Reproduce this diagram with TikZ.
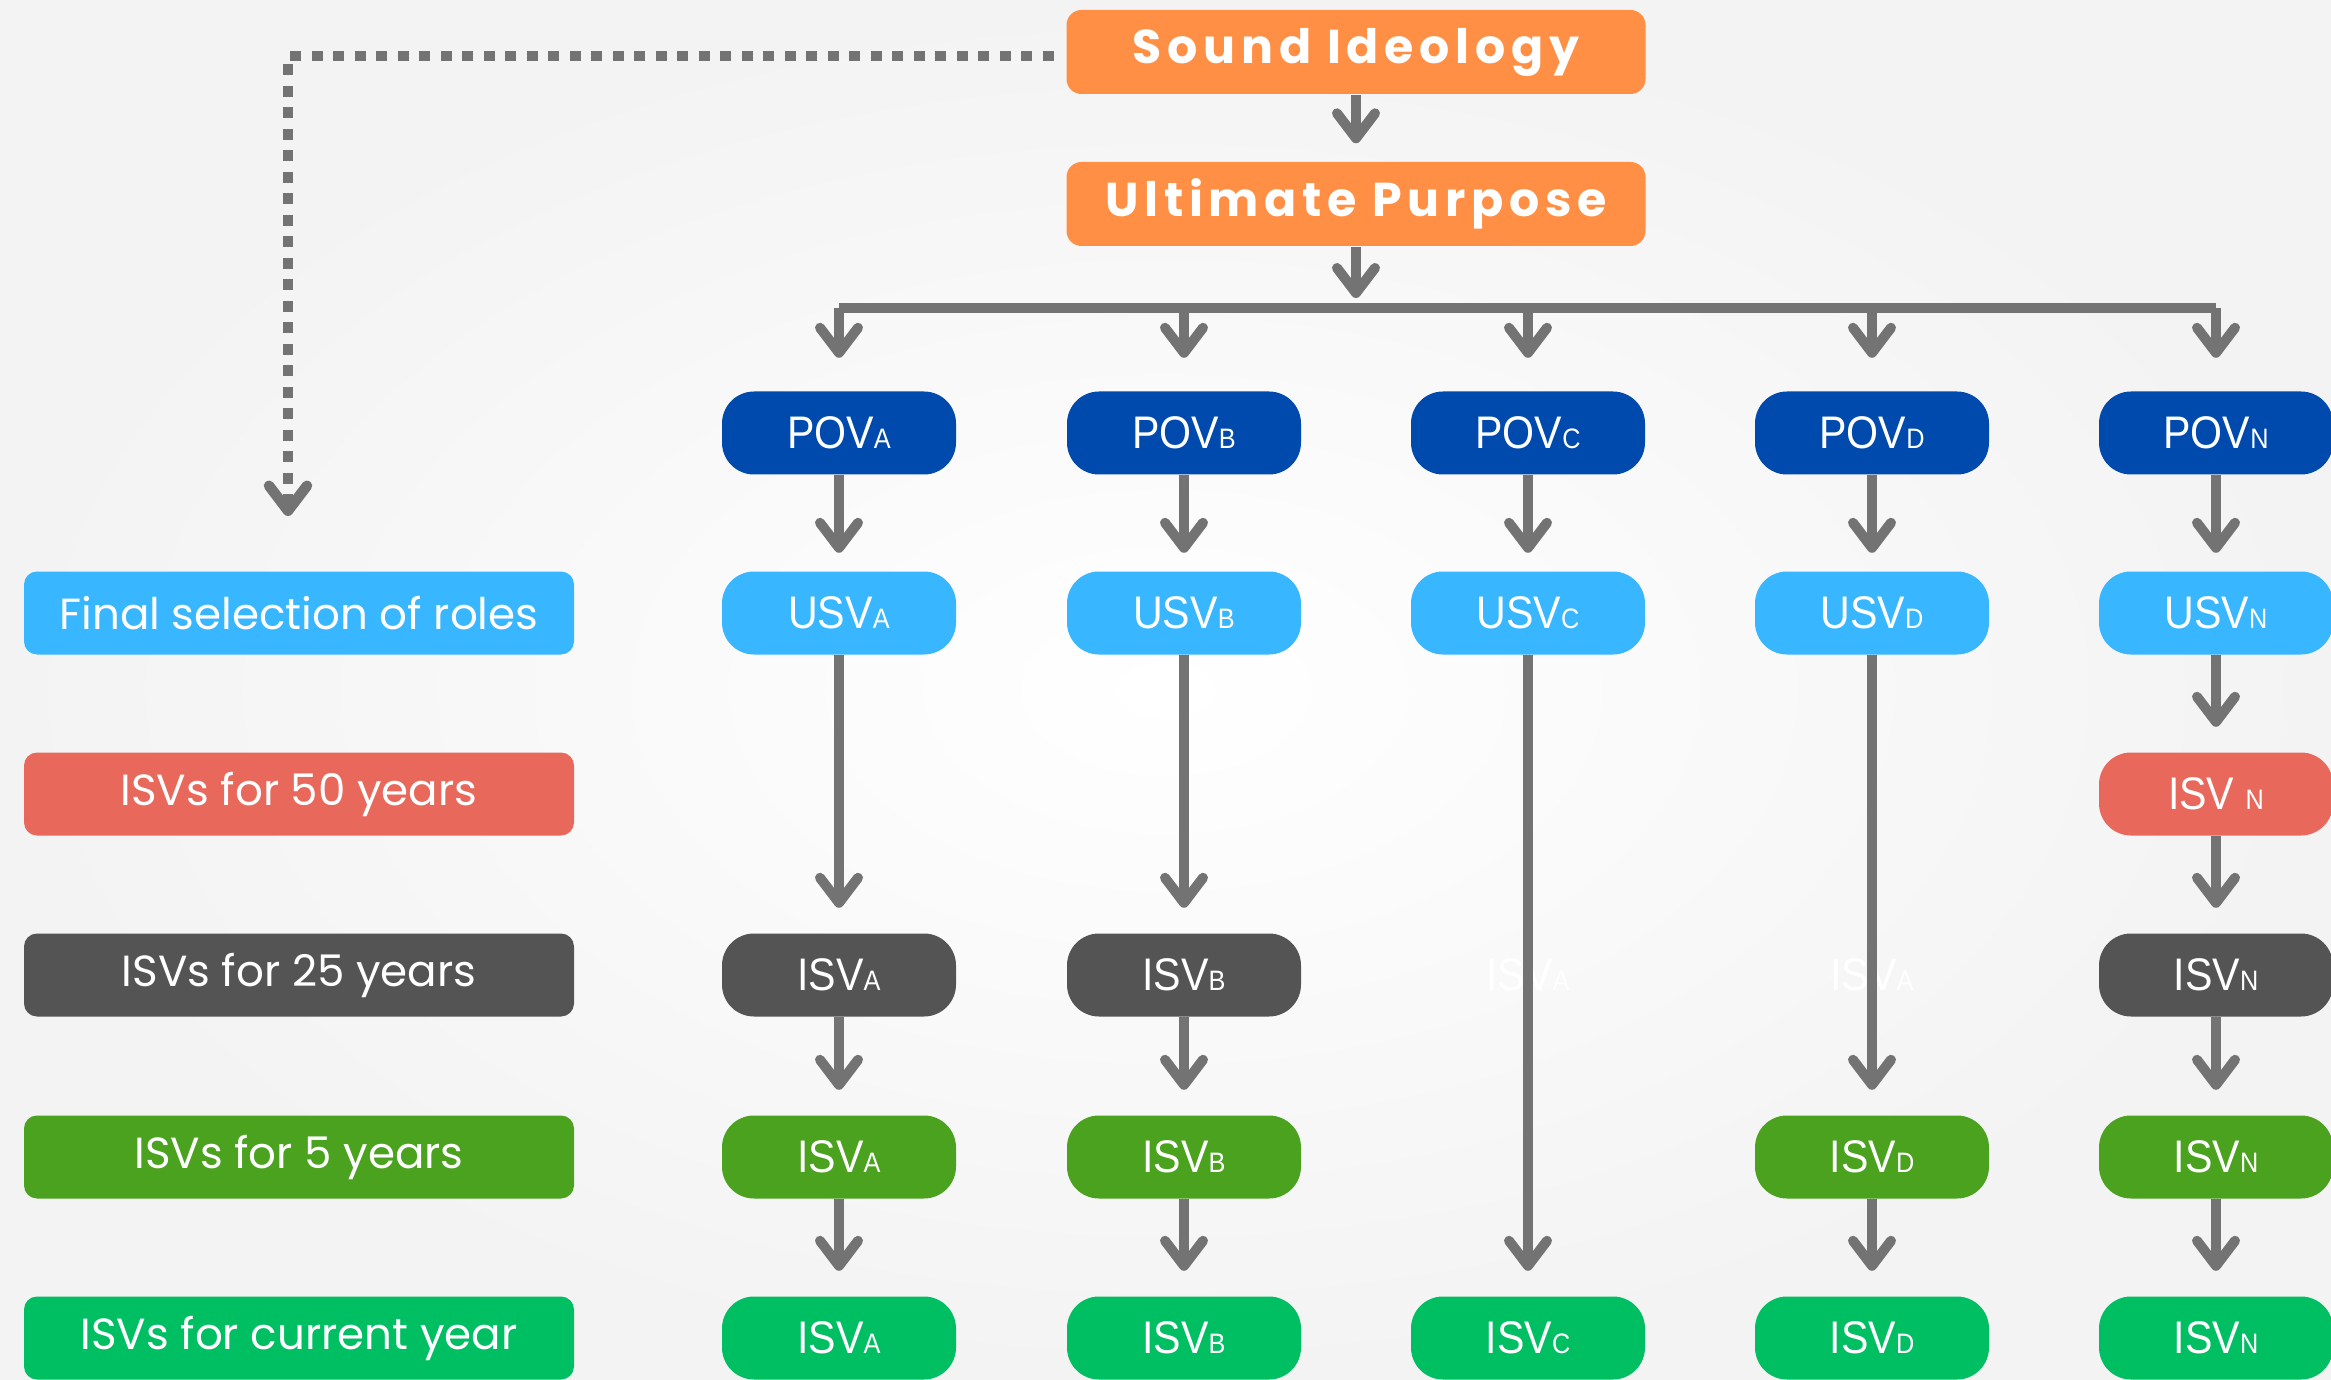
\documentclass[tikz,border=0pt]{standalone}
\usepackage{fontspec}
\setmainfont{Poppins}
\newfontfamily\colfont{Liberation Sans}[FakeStretch=0.9]
\newfontfamily\headfont{Poppins}[LetterSpace=12]
\usepackage{xcolor}
\usepackage{tikz}
\usetikzlibrary{positioning,arrows.meta}
\definecolor{headorange}{HTML}{FF8F45}
\definecolor{povblue}{HTML}{004AAD}
\definecolor{usvblue}{HTML}{38B6FF}
\definecolor{fiftyred}{HTML}{E8695B}
\definecolor{twfivegray}{HTML}{545454}
\definecolor{fivegreen}{HTML}{4AA21E}
\definecolor{nowgreen}{HTML}{00BF63}
\definecolor{linkgray}{HTML}{737373}
\definecolor{bggray}{HTML}{F3F3F3}
\newcommand{\subl}[1]{{\fontsize{8pt}{8pt}\selectfont #1}}

\begin{document}
\begin{tikzpicture}[
  every node/.style={text=white, inner sep=0pt},
  head/.style={fill=headorange, rounded corners=1.5mm, minimum width=5.79cm,
               minimum height=0.84cm, font=\headfont\bfseries\fontsize{13.5pt}{16pt}\selectfont},
  lbl/.style={rounded corners=1.3mm, minimum width=5.5cm, minimum height=0.83cm,
              font=\fontsize{12.4pt}{15pt}\selectfont},
  pill/.style={rounded corners=3.2mm, minimum width=2.34cm, minimum height=0.83cm,
               font=\colfont\fontsize{13pt}{15pt}\selectfont},
  arr/.style={draw=linkgray, line width=1mm, shorten >=2.5mm,
              -{Straight Barb[round, length=2.5mm, width=3.8mm]}},
  dotline/.style={draw=linkgray, line width=1.05mm, dash pattern=on 1.1mm off 1.05mm,
                  -{Straight Barb[round, length=2.5mm, width=3.8mm]}},
]
  \useasboundingbox (0,0) rectangle (23.31,-13.80);
  \shade[inner color=white, outer color=bggray] (0,0) rectangle (23.31,-13.80);

  % Top of the tree
  \node[head] (si) at (13.56,-0.52) {Sound Ideology};
  \node[head] (up) at (13.56,-2.04) {Ultimate Purpose};

  % Row labels on the left
  \node[lbl, fill=usvblue]    (rowusv) at (2.99,-6.13)  {Final selection of roles};
  \node[lbl, fill=fiftyred]   (row50)  at (2.99,-7.94)  {ISVs for 50 years};
  \node[lbl, fill=twfivegray] (row25)  at (2.99,-9.75)  {ISVs for 25 years};
  \node[lbl, fill=fivegreen]  (row5)   at (2.99,-11.57) {ISVs for 5 years};
  \node[lbl, fill=nowgreen]   (rownow) at (2.99,-13.38) {ISVs for current year};

  % POV row
  \node[pill, fill=povblue] (povA) at (8.39,-4.33)  {POV\subl{A}};
  \node[pill, fill=povblue] (povB) at (11.84,-4.33) {POV\subl{B}};
  \node[pill, fill=povblue] (povC) at (15.28,-4.33) {POV\subl{C}};
  \node[pill, fill=povblue] (povD) at (18.72,-4.33) {POV\subl{D}};
  \node[pill, fill=povblue] (povN) at (22.16,-4.33) {POV\subl{N}};

  % USV row
  \node[pill, fill=usvblue] (usvA) at (8.39,-6.13)  {USV\subl{A}};
  \node[pill, fill=usvblue] (usvB) at (11.84,-6.13) {USV\subl{B}};
  \node[pill, fill=usvblue] (usvC) at (15.28,-6.13) {USV\subl{C}};
  \node[pill, fill=usvblue] (usvD) at (18.72,-6.13) {USV\subl{D}};
  \node[pill, fill=usvblue] (usvN) at (22.16,-6.13) {USV\subl{N}};

  % 50 years
  \node[pill, fill=fiftyred] (isvN50) at (22.16,-7.94) {ISV \subl{N}};

  % 25 years (C and D only as faint text)
  \node[pill, fill=twfivegray] (isvA25) at (8.39,-9.75)  {ISV\subl{A}};
  \node[pill, fill=twfivegray] (isvB25) at (11.84,-9.75) {ISV\subl{B}};
  \node[pill, text=white] (ghostC) at (15.28,-9.75) {ISV\subl{A}};
  \node[pill, text=white] (ghostD) at (18.72,-9.75) {ISV\subl{A}};
  \node[pill, fill=twfivegray] (isvN25) at (22.16,-9.75) {ISV\subl{N}};

  % 5 years
  \node[pill, fill=fivegreen] (isvA5) at (8.39,-11.57)  {ISV\subl{A}};
  \node[pill, fill=fivegreen] (isvB5) at (11.84,-11.57) {ISV\subl{B}};
  \node[pill, fill=fivegreen] (isvD5) at (18.72,-11.57) {ISV\subl{D}};
  \node[pill, fill=fivegreen] (isvN5) at (22.16,-11.57) {ISV\subl{N}};

  % current year
  \node[pill, fill=nowgreen] (isvAnow) at (8.39,-13.38)  {ISV\subl{A}};
  \node[pill, fill=nowgreen] (isvBnow) at (11.84,-13.38) {ISV\subl{B}};
  \node[pill, fill=nowgreen] (isvCnow) at (15.28,-13.38) {ISV\subl{C}};
  \node[pill, fill=nowgreen] (isvDnow) at (18.72,-13.38) {ISV\subl{D}};
  \node[pill, fill=nowgreen] (isvNnow) at (22.16,-13.38) {ISV\subl{N}};

  % Dotted link down to the row labels
  \coordinate (dotend) at (2.88,-5.16);
  \draw[dotline] ([xshift=-1.2mm,yshift=-0.4mm]si.west) -| (dotend);

  % Header arrows and the branch bar
  \coordinate (barL) at (8.39,-3.08);
  \coordinate (barR) at (22.16,-3.08);
  \draw[arr, shorten >=1.8mm] (si) -- (up);
  \draw[arr, shorten >=1mm] (up) -- (up |- barL);
  \draw[draw=linkgray, line width=1mm] (barL) -- (barR);
  \draw[arr, shorten >=3.3mm] (barL) -- (povA);
  \draw[arr, shorten >=3.3mm] (povB |- barL) -- (povB);
  \draw[arr, shorten >=3.3mm] (povC |- barL) -- (povC);
  \draw[arr, shorten >=3.3mm] (povD |- barL) -- (povD);
  \draw[arr, shorten >=3.3mm] (barR) -- (povN);

  % POV to USV
  \draw[arr, shorten >=1.8mm] (povA) -- (usvA);
  \draw[arr, shorten >=1.8mm] (povB) -- (usvB);
  \draw[arr, shorten >=1.8mm] (povC) -- (usvC);
  \draw[arr, shorten >=1.8mm] (povD) -- (usvD);
  \draw[arr, shorten >=1.8mm] (povN) -- (usvN);

  % Columns down to the current year
  \draw[arr] (usvA) -- (isvA25);
  \draw[arr] (isvA25) -- (isvA5);
  \draw[arr] (isvA5) -- (isvAnow);
  \draw[arr] (usvB) -- (isvB25);
  \draw[arr] (isvB25) -- (isvB5);
  \draw[arr] (isvB5) -- (isvBnow);
  \draw[arr] (usvC) -- (isvCnow);
  \draw[arr] (usvD) -- (isvD5);
  \draw[arr] (isvD5) -- (isvDnow);
  \draw[arr] (usvN) -- (isvN50);
  \draw[arr] (isvN50) -- (isvN25);
  \draw[arr] (isvN25) -- (isvN5);
  \draw[arr] (isvN5) -- (isvNnow);
\end{tikzpicture}
\end{document}
